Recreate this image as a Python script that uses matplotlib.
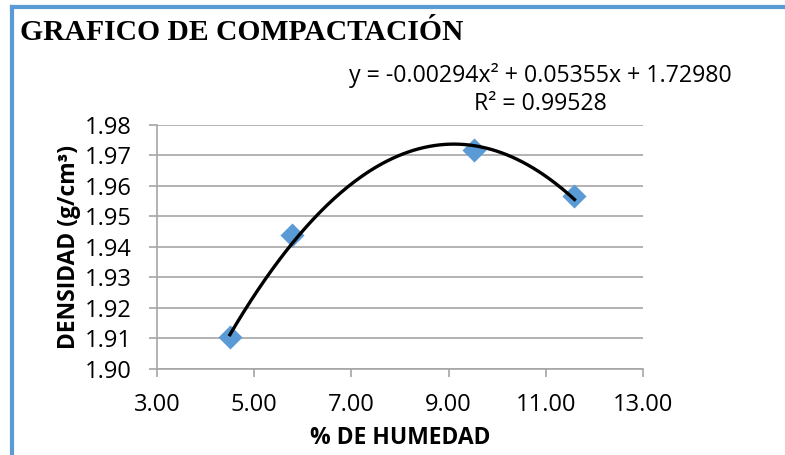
import numpy as np
import matplotlib
matplotlib.use("Agg")
import matplotlib.pyplot as plt
from matplotlib.lines import Line2D

# Data
humedad = [4.50, 5.78, 9.52, 11.59]
densidad = [1.9105, 1.9440, 1.9716, 1.9568]
coef = [-0.00294, 0.05355, 1.72980]  # quadratic trend coefficients
r2 = 0.99528
xticks = [3.0, 5.0, 7.0, 9.0, 11.0, 13.0]
yticks = [1.90, 1.91, 1.92, 1.93, 1.94, 1.95, 1.96, 1.97, 1.98]

W, H = 785, 455
fig = plt.figure(figsize=(W / 100, H / 100), dpi=100)
ax = fig.add_axes([157 / W, 1 - 369 / H, (643 - 157) / W, (369 - 124.7) / H])

sans = ["Open Sans", "DejaVu Sans"]
grid_c = "#a6a6a6"

ax.set_xlim(3, 13)
ax.set_ylim(1.90, 1.98)
ax.set_xticks(xticks)
ax.set_yticks(yticks)
ax.set_xticklabels([f"{v:.2f}" for v in xticks], family=sans, fontsize=17)
ax.set_yticklabels([f"{v:.2f}" for v in yticks], family=sans, fontsize=17)
ax.yaxis.grid(True, color=grid_c, linewidth=1.2)
ax.set_axisbelow(True)
for s in ["top", "right"]:
    ax.spines[s].set_visible(False)
for s in ["bottom", "left"]:
    ax.spines[s].set_color(grid_c)
    ax.spines[s].set_linewidth(1.2)
ax.tick_params(axis="both", colors=grid_c, labelcolor="black", length=6, width=1.2)
ax.tick_params(axis="x", pad=11)
ax.tick_params(axis="y", pad=12)

xs = np.linspace(min(humedad), max(humedad), 200)
ax.plot(xs, np.polyval(coef, xs), color="black", linewidth=2.4, zorder=3)
ax.scatter(humedad, densidad, marker="D", s=150, color="#5b9bd5", zorder=2, linewidths=0)

ax.set_xlabel("% DE HUMEDAD", family=sans, fontsize=16.5, fontweight="bold", labelpad=7)
ax.set_ylabel("DENSIDAD (g/cm³)", family=sans, fontsize=16.5, fontweight="bold", labelpad=3)

fig.text(20 / W, 1 - 32 / H, "GRAFICO DE COMPACTACIÓN", family=["Liberation Serif"],
         fontsize=21.3, fontweight="bold", va="center", ha="left")
fig.text(540 / W, 1 - 76 / H, "y = -0.00294x² + 0.05355x + 1.72980",
         family=sans, fontsize=16.7, ha="center", va="center")
fig.text(540 / W, 1 - 104 / H, f"R² = {r2:.5f}", family=sans, fontsize=16.7, ha="center", va="center")

# blue frame
fc = "#5b9bd5"
fig.add_artist(Line2D([12 / W, 1], [1 - 7 / H, 1 - 7 / H], color=fc, linewidth=3, transform=fig.transFigure))
fig.add_artist(Line2D([12 / W, 12 / W], [0, 1 - 7 / H], color=fc, linewidth=3, transform=fig.transFigure))

fig.savefig("out.png", dpi=100, facecolor="white")
